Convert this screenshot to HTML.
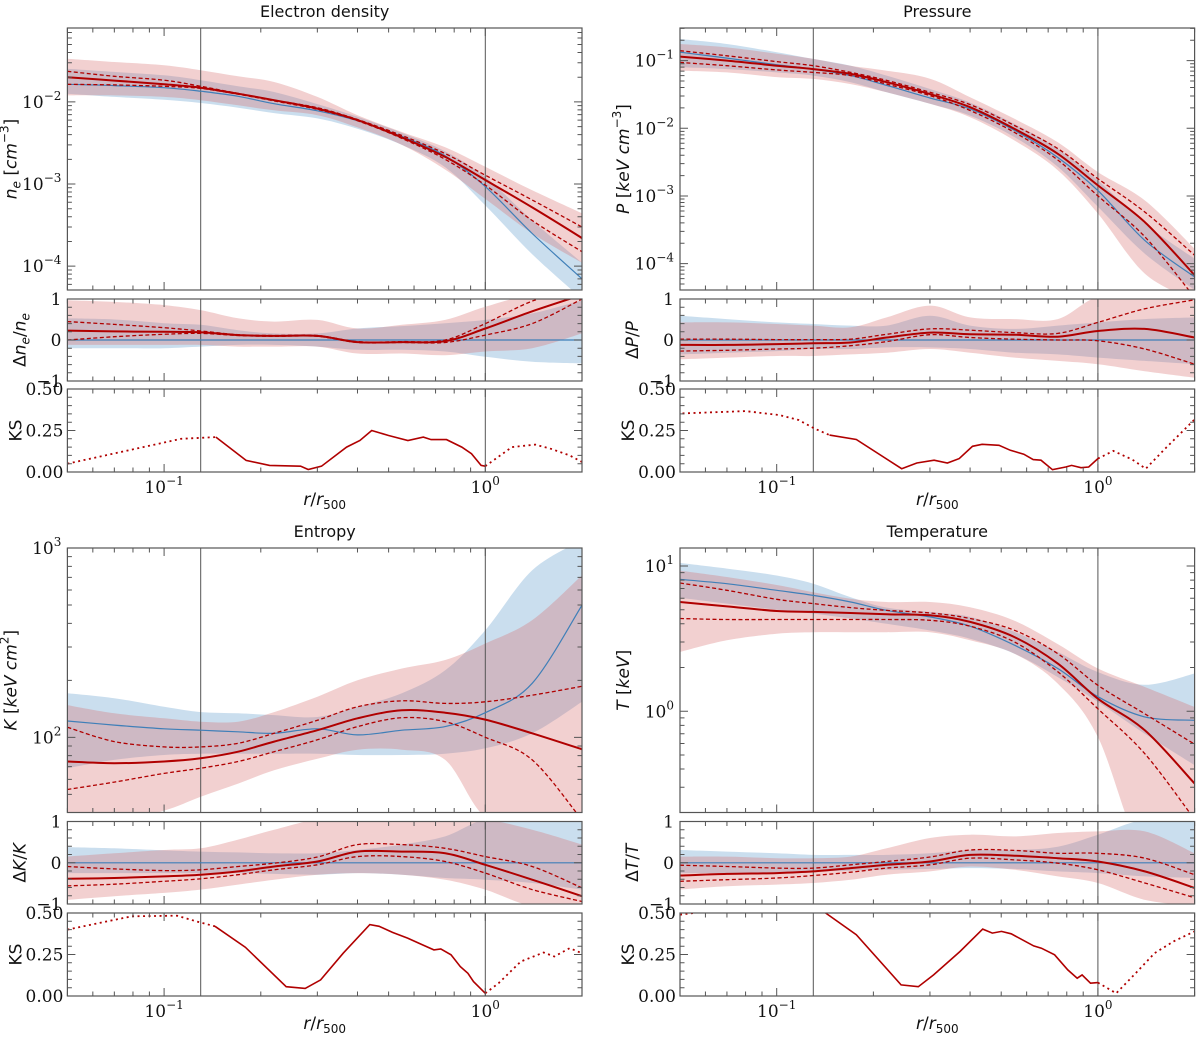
<!DOCTYPE html>
<html><head><meta charset="utf-8"><style>
html,body{margin:0;padding:0;background:#fff;}
svg{display:block;}
.tk{font-family:"DejaVu Serif","Liberation Serif",serif;font-size:17px;fill:#111;}
.lb{font-family:"DejaVu Sans","Liberation Sans",sans-serif;font-size:17px;fill:#111;}
.tt{font-family:"DejaVu Sans","Liberation Sans",sans-serif;font-size:16px;fill:#111;}
</style></head><body>
<svg id="fig" width="1200" height="1038" viewBox="0 0 1200 1038" xmlns="http://www.w3.org/2000/svg"></svg>
<script>
// ---------- data ----------
const grid = [0.05,0.07,0.1,0.13,0.17,0.22,0.3,0.4,0.55,0.75,1.0,1.4,2.0];

const ne_red_med=[0.020,0.0182,0.0164,0.0149,0.0126,0.0105,0.0083,0.006,0.0037,0.00214,0.00112,0.00052,0.00022];
const ne_red_dhi=[0.0236,0.0205,0.0184,0.0155,0.0127,0.0105,0.0085,0.0061,0.0039,0.00235,0.00128,0.00064,0.0003];
const ne_red_dlo=[0.0164,0.0161,0.0155,0.0146,0.0124,0.0103,0.0081,0.0059,0.0036,0.002,0.00097,0.00036,0.00015];
const ne_blue_med=[0.0164,0.0158,0.0149,0.0135,0.0117,0.0095,0.0078,0.0059,0.0038,0.0022,0.00093,0.00025,0.00007];
const ne_red_hi=[0.0336,0.0306,0.0279,0.0243,0.0205,0.0175,0.0115,0.0069,0.0043,0.0028,0.00162,0.00084,0.00044];
const ne_red_lo=[0.012,0.012,0.0115,0.0105,0.0091,0.0079,0.0069,0.0049,0.003,0.0015,0.00066,0.00025,0.00011];
const ne_blue_hi=[0.0254,0.0232,0.0211,0.0184,0.0155,0.0132,0.0094,0.0066,0.0042,0.0025,0.00122,0.00036,0.00011];
const ne_blue_lo=[0.0126,0.0115,0.0106,0.0097,0.0085,0.0073,0.0063,0.0047,0.003,0.0016,0.00055,0.00014,0.00004];
const ner_red_med=[0.23,0.21,0.2,0.19,0.12,0.1,0.1,-0.05,-0.05,-0.03,0.28,0.7,1.1];
const ner_red_dhi=[0.45,0.38,0.3,0.22,0.13,0.11,0.11,-0.04,-0.04,0.0,0.4,0.95,1.3];
const ner_red_dlo=[0.0,0.08,0.14,0.16,0.11,0.09,0.09,-0.06,-0.06,-0.06,0.12,0.4,1.0];
const ner_red_hi=[0.97,0.93,0.85,0.73,0.53,0.45,0.49,0.28,0.37,0.49,0.81,1.1,1.1];
const ner_red_lo=[-0.12,-0.12,-0.12,-0.12,-0.16,-0.16,-0.16,-0.33,-0.33,-0.37,-0.28,-0.2,0.16];
const ner_blue_hi=[0.53,0.5,0.41,0.37,0.24,0.16,0.16,0.28,0.34,0.41,0.49,0.65,0.97];
const ner_blue_lo=[-0.2,-0.2,-0.2,-0.16,-0.12,-0.12,-0.16,-0.24,-0.24,-0.28,-0.41,-0.53,-0.57];
const ner_blue_med=[0,0,0,0,0,0,0,0,0,0,0,0,0];
const ne_ks_r=[0.05,0.113,0.145,0.180,0.213,0.266,0.281,0.309,0.370,0.407,0.443,0.50,0.574,0.641,0.678,0.757,0.845,0.906,0.97,1.0,1.21,1.43,1.60,1.83,2.0];
const ne_ks_v=[0.05,0.20,0.21,0.07,0.04,0.035,0.015,0.035,0.15,0.19,0.25,0.22,0.19,0.21,0.195,0.195,0.15,0.11,0.04,0.035,0.15,0.165,0.14,0.10,0.06];

const p_red_med=[0.1145,0.1,0.084,0.075,0.0636,0.048,0.032,0.0205,0.0098,0.0042,0.00143,0.00041,0.0000676];
const p_red_dhi=[0.14,0.118,0.0967,0.084,0.067,0.051,0.034,0.0224,0.011,0.005,0.0018,0.00058,0.000133];
const p_red_dlo=[0.094,0.084,0.0728,0.067,0.06,0.045,0.0304,0.0183,0.0087,0.0034,0.001,0.00025,0.0000316];
const p_blue_med=[0.133,0.109,0.087,0.075,0.06,0.043,0.028,0.0193,0.0093,0.0037,0.0012,0.00022,0.0000635];
const p_red_hi=[0.176,0.157,0.126,0.106,0.084,0.071,0.054,0.0288,0.0138,0.0062,0.00225,0.00086,0.000166];
const p_red_lo=[0.071,0.067,0.057,0.0536,0.045,0.034,0.023,0.0146,0.0066,0.0024,0.00055,0.0000711,0.0000285];
const p_blue_hi=[0.209,0.176,0.133,0.106,0.084,0.06,0.038,0.024,0.0116,0.005,0.0017,0.00039,0.000118];
const p_blue_lo=[0.0797,0.075,0.067,0.06,0.048,0.034,0.023,0.0154,0.0074,0.0027,0.00069,0.00014,0.000041];
const pr_red_med=[-0.12,-0.12,-0.1,-0.08,-0.06,0.06,0.18,0.14,0.13,0.08,0.22,0.27,0.06];
const pr_red_dhi=[0.02,0.02,0.01,0.01,0.02,0.14,0.27,0.24,0.18,0.16,0.43,0.76,0.98];
const pr_red_dlo=[-0.27,-0.25,-0.22,-0.2,-0.14,-0.04,0.13,0.06,0.02,0.0,-0.02,-0.22,-0.59];
const pr_red_hi=[0.43,0.43,0.39,0.35,0.31,0.55,0.84,0.55,0.51,0.51,1.05,1.05,1.05];
const pr_red_lo=[-0.47,-0.43,-0.39,-0.39,-0.35,-0.31,-0.22,-0.31,-0.43,-0.51,-0.59,-0.76,-0.92];
const pr_blue_hi=[0.59,0.51,0.43,0.39,0.35,0.35,0.59,0.35,0.27,0.35,0.43,0.51,0.55];
const pr_blue_lo=[-0.35,-0.31,-0.27,-0.22,-0.22,-0.18,-0.18,-0.22,-0.31,-0.35,-0.43,-0.51,-0.59];
const pr_blue_med=[0,0,0,0,0,0,0,0,0,0,0,0,0];
const p_ks_r=[0.0509,0.080,0.102,0.117,0.131,0.146,0.177,0.245,0.273,0.309,0.340,0.370,0.407,0.436,0.492,0.534,0.588,0.629,0.665,0.722,0.794,0.828,0.886,0.936,1.0,1.117,1.28,1.41,1.62,2.0];
const p_ks_v=[0.353,0.367,0.343,0.313,0.262,0.222,0.196,0.02,0.054,0.071,0.054,0.081,0.155,0.167,0.161,0.131,0.107,0.075,0.071,0.014,0.03,0.04,0.026,0.03,0.081,0.127,0.075,0.02,0.141,0.317];

const k_red_med=[74.5,73,74.5,77.5,84,95,109,126,139,135,124,105,86.5];
const k_red_dhi=[113,95,89,89,93,105,123,145,156,151,154,167,186];
const k_red_dlo=[53,58,64.5,68.7,74.5,84,97,114,127,121,100,76,36.6];
const k_blue_med=[122,116,111,109,107,105,111,103,109,114,135,193,499];
const k_red_hi=[148,134,126,121,121,136,164,200,231,256,313,416,718];
const k_red_lo=[36,36,41,48.6,57,67,77,86,86,76,38,36,36];
const k_blue_hi=[171,161,145,136,134,131,128,145,171,226,368,762,1100];
const k_blue_lo=[68.7,76,80.7,82,82,82,82,80.7,80.7,82,87.5,105,154];
const kr_red_med=[-0.39,-0.37,-0.33,-0.29,-0.21,-0.09,0.03,0.27,0.27,0.23,-0.05,-0.41,-0.81];
const kr_red_dhi=[-0.09,-0.15,-0.19,-0.17,-0.09,-0.01,0.14,0.44,0.44,0.35,0.15,-0.09,-0.61];
const kr_red_dlo=[-0.56,-0.52,-0.45,-0.39,-0.29,-0.17,-0.05,0.15,0.15,0.03,-0.25,-0.65,-0.94];
const kr_red_hi=[0.15,0.23,0.31,0.35,0.56,0.8,1.05,1.05,1.05,1.05,1.05,0.8,0.44];
const kr_red_lo=[-0.9,-0.81,-0.73,-0.65,-0.53,-0.41,-0.29,-0.25,-0.29,-0.41,-0.65,-1.05,-1.05];
const kr_blue_hi=[0.38,0.35,0.3,0.27,0.25,0.23,0.23,0.31,0.44,0.64,1.05,1.05,1.05];
const kr_blue_lo=[-0.25,-0.25,-0.25,-0.25,-0.25,-0.27,-0.29,-0.25,-0.29,-0.37,-0.41,-0.49,-0.65];
const kr_blue_med=[0,0,0,0,0,0,0,0,0,0,0,0,0];
const k_ks_r=[0.05,0.0793,0.1097,0.129,0.144,0.179,0.240,0.275,0.307,0.361,0.437,0.467,0.514,0.573,0.638,0.692,0.727,0.782,0.836,0.883,0.919,1.0,1.10,1.29,1.52,1.64,1.83,2.0];
const k_ks_v=[0.40,0.48,0.484,0.444,0.42,0.294,0.056,0.046,0.097,0.258,0.43,0.42,0.383,0.349,0.308,0.278,0.284,0.248,0.177,0.137,0.087,0.016,0.077,0.208,0.262,0.238,0.288,0.258];

const t_red_med=[5.65,5.27,4.9,4.83,4.75,4.65,4.58,4.12,3.24,2.13,1.22,0.74,0.318];
const t_red_dhi=[7.64,6.8,5.9,5.51,5.17,4.95,4.75,4.35,3.61,2.49,1.51,0.96,0.593];
const t_red_dlo=[4.35,4.28,4.28,4.28,4.28,4.28,4.23,3.85,3.0,1.87,1.04,0.51,0.18];
const t_blue_med=[8.09,7.55,6.8,6.28,5.65,4.95,4.46,3.85,2.85,1.97,1.26,0.914,0.867];
const t_red_hi=[9.3,8.4,7.4,6.6,5.95,5.65,5.65,5.2,4.2,2.9,1.97,1.47,1.07];
const t_red_lo=[2.56,3.08,3.42,3.5,3.5,3.5,3.5,3.08,2.49,1.55,0.665,0.1,0.1];
const t_blue_hi=[10.5,9.6,8.6,7.55,6.1,5.17,4.83,4.46,3.52,2.56,1.86,1.52,1.82];
const t_blue_lo=[6.05,5.51,5.0,4.7,4.35,4.0,3.6,3.16,2.49,1.72,1.16,0.70,0.425];
const tr_red_med=[-0.31,-0.27,-0.25,-0.21,-0.13,-0.05,0.03,0.19,0.17,0.11,0.03,-0.21,-0.61];
const tr_red_dhi=[-0.06,-0.09,-0.13,-0.13,-0.05,0.03,0.14,0.31,0.3,0.23,0.23,0.11,-0.29];
const tr_red_dlo=[-0.45,-0.41,-0.37,-0.31,-0.23,-0.13,-0.05,0.11,0.07,-0.01,-0.17,-0.49,-0.85];
const tr_red_hi=[0.15,0.15,0.11,0.11,0.15,0.35,0.6,0.68,0.64,0.72,0.76,0.76,0.23];
const tr_red_lo=[-0.65,-0.57,-0.53,-0.49,-0.41,-0.29,-0.21,-0.09,-0.17,-0.33,-0.49,-0.9,-1.05];
const tr_blue_hi=[0.31,0.27,0.23,0.19,0.19,0.19,0.23,0.31,0.31,0.39,0.68,1.05,1.05];
const tr_blue_lo=[-0.25,-0.25,-0.23,-0.21,-0.19,-0.17,-0.15,-0.13,-0.15,-0.21,-0.25,-0.33,-0.37];
const tr_blue_med=[0,0,0,0,0,0,0,0,0,0,0,0,0];
const t_ks_r=[0.05,0.055,0.076,0.114,0.1345,0.142,0.177,0.244,0.276,0.308,0.372,0.438,0.469,0.501,0.537,0.631,0.667,0.733,0.806,0.862,0.893,0.948,1.0,1.14,1.31,1.50,1.72,2.0];
const t_ks_v=[0.49,0.5,0.55,0.53,0.51,0.5,0.369,0.067,0.056,0.127,0.268,0.403,0.379,0.389,0.375,0.302,0.288,0.248,0.157,0.107,0.127,0.077,0.081,0.016,0.137,0.258,0.329,0.389];

const vlines=[0.13,1.0];
const ksRange=[0,0.5];
const resRange=[-1,1];

// ---------- drawing ----------
const NS='http://www.w3.org/2000/svg';
const svg=document.getElementById('fig');
const W=514.6, LX0=Math.log10(0.05), LX1=Math.log10(2);
const RED='#b00000', BLUE='#3f7fb8', FRED='rgba(214,110,110,0.32)', FBLUE='rgba(80,145,200,0.30)';
let clipId=0;
function mk(tag,attrs,parent){const e=document.createElementNS(NS,tag);for(const k in attrs)e.setAttribute(k,attrs[k]);(parent||svg).appendChild(e);return e;}
function smooth(p){if(!p.length)return'';let d='M'+p[0][0].toFixed(1)+','+p[0][1].toFixed(1);for(let i=0;i<p.length-1;i++){const p0=p[Math.max(0,i-1)],p1=p[i],p2=p[i+1],p3=p[Math.min(p.length-1,i+2)];const c1=[p1[0]+(p2[0]-p0[0])/6,p1[1]+(p2[1]-p0[1])/6],c2=[p2[0]-(p3[0]-p1[0])/6,p2[1]-(p3[1]-p1[1])/6];d+='C'+c1[0].toFixed(1)+','+c1[1].toFixed(1)+' '+c2[0].toFixed(1)+','+c2[1].toFixed(1)+' '+p2[0].toFixed(1)+','+p2[1].toFixed(1);}return d;}
function lineD(p){return p.map((q,i)=>(i?'L':'M')+q[0].toFixed(1)+','+q[1].toFixed(1)).join('');}

function makeAxes(x0,top,bot,ylog,ymin,ymax){
  const ax={x0,top,bot,ylog,ymin,ymax};
  ax.x=r=>x0+(Math.log10(r)-LX0)/(LX1-LX0)*W;
  ax.y=v=>{const t=ylog?Math.log10(Math.max(v,1e-9)):v;return bot-(t-ymin)/(ymax-ymin)*(bot-top);};
  const id='c'+(clipId++);
  const cp=mk('clipPath',{id});mk('rect',{x:x0,y:top,width:W,height:bot-top},cp);
  ax.g=mk('g',{'clip-path':'url(#'+id+')'});
  return ax;
}
function band(ax,hi,lo,fill,name){
  const up=grid.map((r,i)=>[ax.x(r),ax.y(hi[i])]);const dn=grid.map((r,i)=>[ax.x(r),ax.y(lo[i])]).reverse();
  const sd=smooth(dn);
  const d=smooth(up)+'L'+dn[0][0].toFixed(1)+','+dn[0][1].toFixed(1)+sd.slice(sd.indexOf('C'))+'Z';
  const e=mk('path',{d,fill,stroke:'none'},ax.g);
  
  
}
function curve(ax,vals,color,w,dash,name){
  const p=grid.map((r,i)=>[ax.x(r),ax.y(vals[i])]);
  const e=mk('path',{d:smooth(p),fill:'none',stroke:color,'stroke-width':w},ax.g);
  if(dash)e.setAttribute('stroke-dasharray',dash);
  
  
}
function frame(ax,name){
  const e=mk('rect',{x:ax.x0,y:ax.top,width:W,height:ax.bot-ax.top,fill:'none',stroke:'#555','stroke-width':1.2});
  
  
  const maj=[0.1,1];const mins=[0.05,0.06,0.07,0.08,0.09,0.2,0.3,0.4,0.5,0.6,0.7,0.8,0.9,2];
  let d='';
  maj.forEach(r=>{const x=ax.x(r);d+=`M${x},${ax.bot}v-8M${x},${ax.top}v8`;});
  mins.forEach(r=>{const x=ax.x(r);d+=`M${x},${ax.bot}v-4.5M${x},${ax.top}v4.5`;});
  let ymaj=[],ymin=[];
  if(ax.ylog){for(let e10=Math.floor(ax.ymin);e10<=Math.ceil(ax.ymax);e10++){for(let m=1;m<10;m++){const l=e10+Math.log10(m);if(l<ax.ymin-1e-6||l>ax.ymax+1e-6)continue;(m===1?ymaj:ymin).push(Math.pow(10,l));}}}
  else if(ax.ymax===1){ymaj=[-1,0,1];for(let v=-0.8;v<0.9;v+=0.2)if(Math.abs(v)>0.01)ymin.push(v);}
  else {ymaj=[0,0.25,0.5];for(let v=0.05;v<0.5;v+=0.05)if(Math.abs(v-0.25)>0.01)ymin.push(v);}
  const xr=ax.x0+W;
  ymaj.forEach(v=>{const y=ax.y(v);d+=`M${ax.x0},${y}h8M${xr},${y}h-8`;});
  ymin.forEach(v=>{const y=ax.y(v);d+=`M${ax.x0},${y}h4.5M${xr},${y}h-4.5`;});
  const t=mk('path',{d,stroke:'#555','stroke-width':1,fill:'none'});
  
  
}
function vl(ax){vlines.forEach(r=>{const x=ax.x(r);const e=mk('line',{x1:x,x2:x,y1:ax.top,y2:ax.bot,stroke:'#555','stroke-width':1},ax.g);
  
  });}
function txt(x,y,s,cls,anchor,name,rot){
  const e=mk('text',{x,y,'class':cls,'text-anchor':anchor||'middle'});
  e.innerHTML=s;
  if(rot)e.setAttribute('transform',`rotate(-90 ${x} ${y})`);
  
  
  return e;
}
function pow10(e){return '10<tspan dy="-8" font-size="12">'+(e<0?'−'+(-e):e)+'</tspan>';}

function panel(cfg){
  const {x0,mt,mb,rt,rb,kt,kb,ylo,yhi,main,res,ks,ksr,kss,title,ylab,rlab,slug,decs}=cfg;
  txt(x0+W/2,17,title,'tt','middle',slug+'-title').setAttribute('y',cfg.ty);
  const A=makeAxes(x0,mt,mb,true,ylo,yhi);
  band(A,main.bhi,main.blo,FBLUE,slug+'-sim-band');
  band(A,main.rhi,main.rlo,FRED,slug+'-obs-band');
  vl(A);
  curve(A,main.bmed,BLUE,1.2,null,slug+'-sim-median');
  curve(A,main.rdhi,RED,1.3,'4,2.5',slug+'-obs-upper-quartile');
  curve(A,main.rdlo,RED,1.3,'4,2.5',slug+'-obs-lower-quartile');
  curve(A,main.rmed,RED,2,null,slug+'-obs-median');
  frame(A,slug+'-main-axes');
  decs.forEach(e=>{txt(x0-6,A.y(Math.pow(10,e))+6,pow10(e),'tk','end',slug+'-ytick-label');});
  txt(x0-51,(mt+mb)/2,ylab,'lb','middle',slug+'-y-axis-title',true);
  const R=makeAxes(x0,rt,rb,false,-1,1);
  band(R,res.bhi,res.blo,FBLUE,slug+'-res-sim-band');
  band(R,res.rhi,res.rlo,FRED,slug+'-res-obs-band');
  vl(R);
  curve(R,res.bmed,BLUE,1.2,null,slug+'-res-zero-line');
  curve(R,res.rdhi,RED,1.3,'4,2.5',slug+'-res-upper');
  curve(R,res.rdlo,RED,1.3,'4,2.5',slug+'-res-lower');
  curve(R,res.rmed,RED,2,null,slug+'-res-median');
  frame(R,slug+'-residual-axes');
  [[1,'1'],[0,'0'],[-1,'−1']].forEach(([v,s])=>txt(x0-6,R.y(v)+6,s,'tk','end',slug+'-res-tick-label'));
  txt(x0-42,(rt+rb)/2,rlab,'lb','middle',slug+'-res-axis-title',true);
  const K=makeAxes(x0,kt,kb,false,ksRange[0],ksRange[1]);
  vl(K);
  const pts=ksr.map((r,i)=>[K.x(r),K.y(kss[i])]);
  const lo=cfg.solid[0],hi=cfg.solid[1];
  const seg1=pts.filter((p,i)=>ksr[i]<=lo+1e-9),seg2=pts.filter((p,i)=>ksr[i]>=lo-1e-9&&ksr[i]<=hi+1e-9),seg3=pts.filter((p,i)=>ksr[i]>=hi-1e-9);
  [[seg1,'2,3.5','ks-dotted-inner'],[seg2,null,'ks-solid'],[seg3,'2,3.5','ks-dotted-outer']].forEach(([s,da,n])=>{
    const e=mk('path',{d:lineD(s),fill:'none',stroke:RED,'stroke-width':da?1.8:1.6},K.g);
    if(da)e.setAttribute('stroke-dasharray',da);
    
    
  });
  frame(K,slug+'-ks-axes');
  [[0,'0.00'],[0.25,'0.25'],[0.5,'0.50']].forEach(([v,s])=>txt(x0-4,K.y(v)+6,s,'tk','end',slug+'-ks-tick-label'));
  txt(x0-46,(kt+kb)/2,'KS','lb','middle',slug+'-ks-axis-title',true);
  txt(K.x(0.1),kb+21,pow10(-1),'tk','middle',slug+'-xtick-label');
  txt(K.x(1),kb+21,pow10(0),'tk','middle',slug+'-xtick-label');
  txt(x0+W/2,kb+33,'<tspan font-style="italic">r</tspan>/<tspan font-style="italic">r</tspan><tspan dy="4" font-size="12">500</tspan>','lb','middle',slug+'-x-axis-title');
}

const TOP={mt:28,mb:290,rt:299,rb:381,kt:389,kb:472,ty:17};
const BOT={mt:548,mb:812.5,rt:821.5,rb:904,kt:913,kb:996,ty:537};

panel(Object.assign({x0:67.4,ylo:-4.29,yhi:-1.10,decs:[-2,-3,-4],slug:'density',title:'Electron density',
  ylab:'<tspan font-style="italic">n</tspan><tspan dy="4" font-size="12" font-style="italic">e</tspan><tspan dy="-4"> [</tspan><tspan font-style="italic">cm</tspan><tspan dy="-8" font-size="12">−3</tspan><tspan dy="8">]</tspan>',
  rlab:'Δ<tspan font-style="italic">n</tspan><tspan dy="4" font-size="12" font-style="italic">e</tspan><tspan dy="-4">/</tspan><tspan font-style="italic">n</tspan><tspan dy="4" font-size="12" font-style="italic">e</tspan>',
  main:{rmed:ne_red_med,rdhi:ne_red_dhi,rdlo:ne_red_dlo,bmed:ne_blue_med,rhi:ne_red_hi,rlo:ne_red_lo,bhi:ne_blue_hi,blo:ne_blue_lo},
  res:{rmed:ner_red_med,rdhi:ner_red_dhi,rdlo:ner_red_dlo,bmed:ner_blue_med,rhi:ner_red_hi,rlo:ner_red_lo,bhi:ner_blue_hi,blo:ner_blue_lo},
  ksr:ne_ks_r,kss:ne_ks_v,solid:[0.145,1.0]},TOP));

panel(Object.assign({x0:680,ylo:-4.39,yhi:-0.518,decs:[-1,-2,-3,-4],slug:'pressure',title:'Pressure',
  ylab:'<tspan font-style="italic">P</tspan> [<tspan font-style="italic">keV cm</tspan><tspan dy="-8" font-size="12">−3</tspan><tspan dy="8">]</tspan>',
  rlab:'Δ<tspan font-style="italic">P</tspan>/<tspan font-style="italic">P</tspan>',
  main:{rmed:p_red_med,rdhi:p_red_dhi,rdlo:p_red_dlo,bmed:p_blue_med,rhi:p_red_hi,rlo:p_red_lo,bhi:p_blue_hi,blo:p_blue_lo},
  res:{rmed:pr_red_med,rdhi:pr_red_dhi,rdlo:pr_red_dlo,bmed:pr_blue_med,rhi:pr_red_hi,rlo:pr_red_lo,bhi:pr_blue_hi,blo:pr_blue_lo},
  ksr:p_ks_r,kss:p_ks_v,solid:[0.146,1.0]},TOP));

panel(Object.assign({x0:67.4,ylo:1.603,yhi:3.0,decs:[3,2],slug:'entropy',title:'Entropy',
  ylab:'<tspan font-style="italic">K</tspan> [<tspan font-style="italic">keV cm</tspan><tspan dy="-8" font-size="12">2</tspan><tspan dy="8">]</tspan>',
  rlab:'Δ<tspan font-style="italic">K</tspan>/<tspan font-style="italic">K</tspan>',
  main:{rmed:k_red_med,rdhi:k_red_dhi,rdlo:k_red_dlo,bmed:k_blue_med,rhi:k_red_hi,rlo:k_red_lo,bhi:k_blue_hi,blo:k_blue_lo},
  res:{rmed:kr_red_med,rdhi:kr_red_dhi,rdlo:kr_red_dlo,bmed:kr_blue_med,rhi:kr_red_hi,rlo:kr_red_lo,bhi:kr_blue_hi,blo:kr_blue_lo},
  ksr:k_ks_r,kss:k_ks_v,solid:[0.144,1.0]},BOT));

panel(Object.assign({x0:680,ylo:-0.697,yhi:1.124,decs:[1,0],slug:'temperature',title:'Temperature',
  ylab:'<tspan font-style="italic">T</tspan> [<tspan font-style="italic">keV</tspan>]',
  rlab:'Δ<tspan font-style="italic">T</tspan>/<tspan font-style="italic">T</tspan>',
  main:{rmed:t_red_med,rdhi:t_red_dhi,rdlo:t_red_dlo,bmed:t_blue_med,rhi:t_red_hi,rlo:t_red_lo,bhi:t_blue_hi,blo:t_blue_lo},
  res:{rmed:tr_red_med,rdhi:tr_red_dhi,rdlo:tr_red_dlo,bmed:tr_blue_med,rhi:tr_red_hi,rlo:tr_red_lo,bhi:tr_blue_hi,blo:tr_blue_lo},
  ksr:t_ks_r,kss:t_ks_v,solid:[0.142,1.0]},BOT));
</script>
</body></html>
